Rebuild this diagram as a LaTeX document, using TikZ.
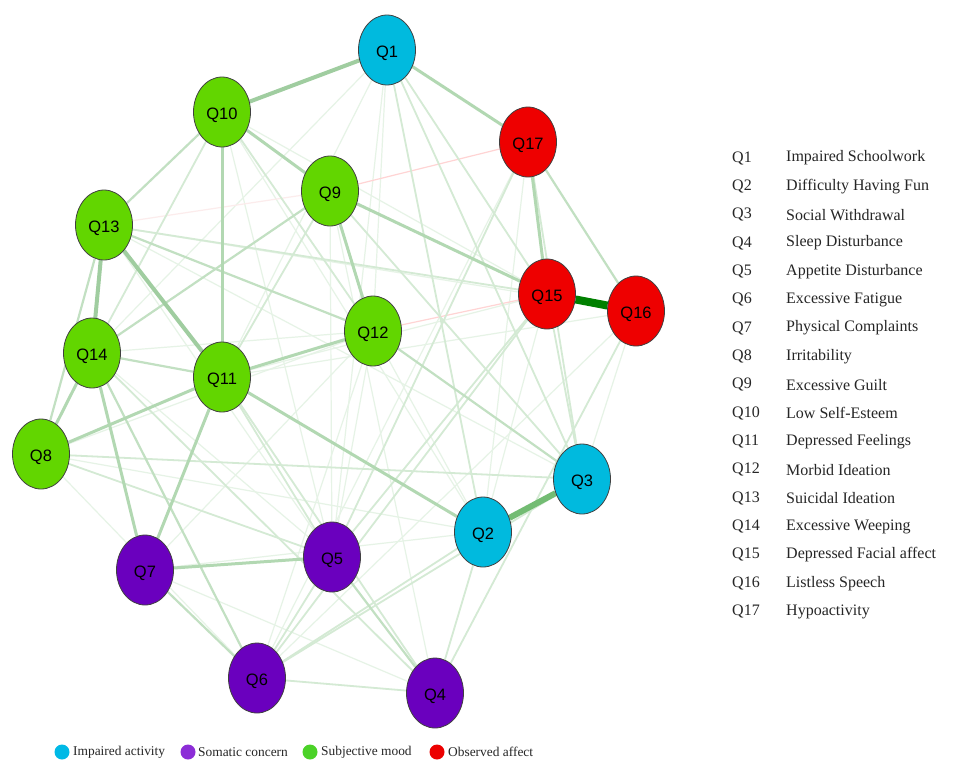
\documentclass[tikz,border=0pt]{standalone}
\usepackage{fontspec}
\setmainfont{Liberation Serif}
\newfontfamily\arialf{Liberation Sans}
\usetikzlibrary{shapes.geometric,backgrounds}
\definecolor{cyanN}{RGB}{0,186,222}
\definecolor{greenN}{RGB}{98,214,0}
\definecolor{purpleN}{RGB}{106,0,190}
\definecolor{redN}{RGB}{238,0,0}
\definecolor{cyanL}{RGB}{0,185,230}
\definecolor{purpleL}{RGB}{140,45,215}
\definecolor{greenL}{RGB}{75,210,40}
\definecolor{redL}{RGB}{236,0,0}
\definecolor{edA}{RGB}{160,205,160}
\definecolor{edB}{RGB}{178,216,178}
\definecolor{edC}{RGB}{194,224,194}
\definecolor{edD}{RGB}{212,234,212}
\definecolor{edE}{RGB}{230,243,230}
\definecolor{edR}{RGB}{255,212,212}
\definecolor{edRf}{RGB}{252,236,236}
\definecolor{edX}{RGB}{0,128,0}
\definecolor{edY}{RGB}{115,188,115}
\begin{document}
\begin{tikzpicture}[x=1pt,y=-1pt,
  qnode/.style={ellipse,draw=black!75,line width=0.8pt,minimum width=57pt,minimum height=70pt,inner sep=0pt,
     font=\arialf\fontsize{16.5}{18}\selectfont,text height=15.5pt,text depth=0pt},
  ia/.style={qnode,fill=cyanN},
  sc/.style={qnode,fill=purpleN},
  sm/.style={qnode,fill=greenN},
  oa/.style={qnode,fill=redN},
  eA/.style={draw=edA,line width=4pt},
  eB/.style={draw=edB,line width=3pt},
  eC/.style={draw=edC,line width=2.2pt},
  eD/.style={draw=edD,line width=1.8pt},
  eE/.style={draw=edE,line width=1.2pt},
  eR/.style={draw=edR,line width=1.2pt},
  legq/.style={anchor=west,text=black!85,font=\fontsize{16}{18}\selectfont,inner sep=0pt},
  legb/.style={anchor=west,text=black!85,font=\fontsize{13.4}{15}\selectfont,inner sep=0pt},
  dot/.style={circle,minimum size=15pt,inner sep=0pt}
]
\useasboundingbox (0,0) rectangle (960,774);

% nodes
\node[ia] (Q1)  at (387,50)  {Q1};
\node[sm] (Q10) at (222,112) {Q10};
\node[oa] (Q17) at (528,142) {Q17};
\node[sm] (Q9)  at (330,191) {Q9};
\node[sm] (Q13) at (104,225) {Q13};
\node[oa] (Q15) at (547,294) {Q15};
\node[oa] (Q16) at (636,311) {Q16};
\node[sm] (Q12) at (373,331) {Q12};
\node[sm] (Q14) at (92,353)  {Q14};
\node[sm] (Q11) at (222,377) {Q11};
\node[sm] (Q8)  at (41,454)  {Q8};
\node[ia] (Q3)  at (582,479) {Q3};
\node[ia] (Q2)  at (483,532) {Q2};
\node[sc] (Q5)  at (332,557) {Q5};
\node[sc] (Q7)  at (145,570) {Q7};
\node[sc] (Q6)  at (257,678) {Q6};
\node[sc] (Q4)  at (435,693) {Q4};

\begin{scope}[on background layer]
\fill[white] (0,0) rectangle (960,774);
\foreach \a/\b in {Q1/Q12,Q1/Q11,Q1/Q14,Q10/Q5,Q10/Q15,Q13/Q3,Q13/Q16,Q8/Q2,Q8/Q6,Q8/Q12,
  Q14/Q12,Q14/Q5,Q16/Q3,Q16/Q6,Q12/Q6,Q12/Q5,Q12/Q2,Q9/Q5,Q17/Q6,Q7/Q4,Q7/Q12,Q11/Q15,
  Q11/Q16,Q13/Q5,Q7/Q2,Q1/Q5,Q17/Q2,Q15/Q2,Q10/Q2,Q9/Q4}
  \draw[eE] (\a) -- (\b);
\draw[draw=edRf,line width=1.2pt] (Q13) -- (Q9);
\foreach \a/\b in {Q9/Q17,Q12/Q15}
  \draw[eR] (\a) -- (\b);
\foreach \a/\b in {Q14/Q10,Q13/Q15,Q6/Q4,Q6/Q2,Q6/Q3,Q2/Q4,Q1/Q15,Q1/Q3,Q15/Q3,Q17/Q3,
  Q9/Q3,Q5/Q15,Q5/Q17,Q11/Q5,Q10/Q12,Q9/Q11,Q8/Q5,Q8/Q3,Q14/Q4,Q5/Q6,Q1/Q2,Q16/Q4,
  Q11/Q4,Q15/Q6}
  \draw[eD] (\a) -- (\b);
\foreach \a/\b in {Q10/Q13,Q13/Q8,Q14/Q11,Q13/Q12,Q7/Q6,Q5/Q4,Q17/Q16,Q14/Q6,Q12/Q3,Q14/Q9}
  \draw[eC] (\a) -- (\b);
\foreach \a/\b in {Q1/Q17,Q10/Q9,Q10/Q11,Q14/Q8,Q11/Q8,Q11/Q7,Q11/Q2,Q9/Q12,Q5/Q7,Q14/Q7,
  Q9/Q15,Q11/Q12,Q17/Q15}
  \draw[eB] (\a) -- (\b);
\foreach \a/\b in {Q1/Q10,Q13/Q11,Q13/Q14}
  \draw[eA] (\a) -- (\b);
\draw[draw=edY,line width=6pt] (Q2) -- (Q3);
\draw[draw=edX,line width=8pt] (Q15) -- (Q16);
\end{scope}

% right legend
\foreach \k/\t [count=\i from 0] in {Q1/Impaired Schoolwork,Q2/Difficulty Having Fun,Q3/Social Withdrawal,
  Q4/Sleep Disturbance,Q5/Appetite Disturbance,Q6/Excessive Fatigue,Q7/Physical Complaints,
  Q8/Irritability,Q9/Excessive Guilt,Q10/Low Self-Esteem,Q11/Depressed Feelings,
  Q12/Morbid Ideation,Q13/Suicidal Ideation,Q14/Excessive Weeping,Q15/Depressed Facial affect,
  Q16/Listless Speech,Q17/Hypoactivity}{
  \node[legq] (k\i) at (732,158+28.35*\i) {\k};
  \node[legq] (t\i) at (786,158+28.35*\i) {\t};
}

% bottom legend
\node[dot,fill=cyanL] (d1) at (62,752) {};
\node[legb] (l1) at (73,752) {Impaired activity};
\node[dot,fill=purpleL] (d2) at (188,752) {};
\node[legb] (l2) at (198,752) {Somatic concern};
\node[dot,fill=greenL] (d3) at (310,752) {};
\node[legb] (l3) at (321,752) {Subjective mood};
\node[dot,fill=redL] (d4) at (437,752) {};
\node[legb] (l4) at (448,752) {Observed affect};
\end{tikzpicture}
\end{document}
